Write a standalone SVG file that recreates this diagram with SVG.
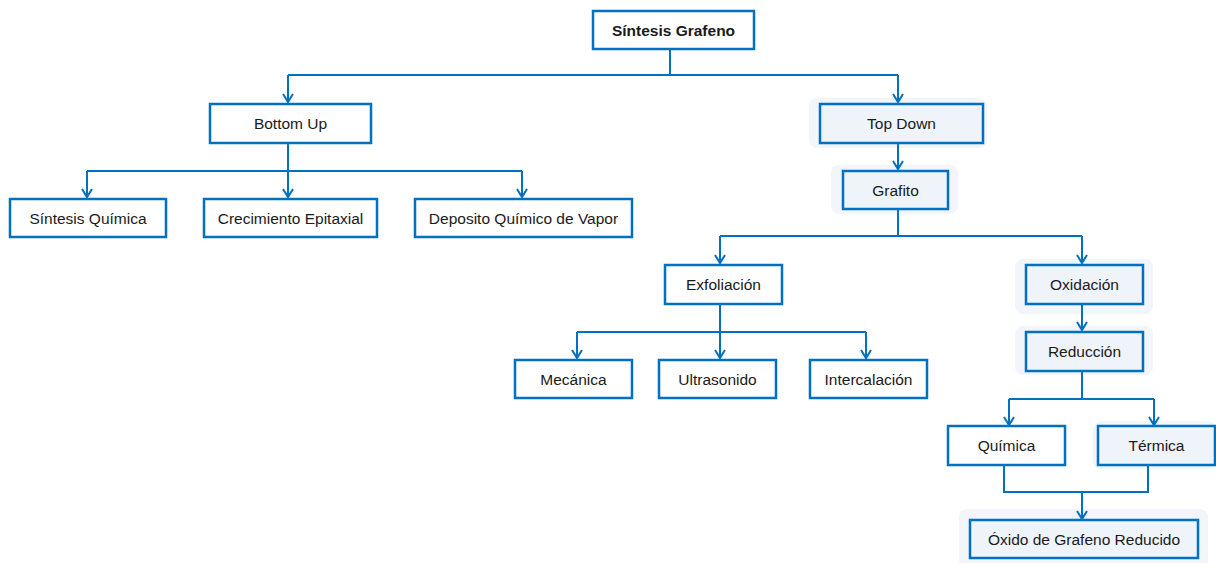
<svg xmlns="http://www.w3.org/2000/svg" width="1216" height="563" viewBox="0 0 1216 563">
<defs>
<marker id="arr" viewBox="0 0 12 12" refX="10" refY="6" markerWidth="12" markerHeight="12" markerUnits="userSpaceOnUse" orient="auto">
<path d="M2,1 L10,6 L2,11" fill="none" stroke="#0070C0" stroke-width="2"/>
</marker>
<style>
.box{fill:#ffffff;stroke:#0070C0;stroke-width:2.5}
.boxl{fill:#EFF3FA;stroke:#0070C0;stroke-width:2.5}
.halo{fill:#F2F5FA}
.t{font-family:"Liberation Sans",Arial,sans-serif;font-size:15.5px;fill:#1a1a1a;text-anchor:middle;dominant-baseline:central}
.tb{font-weight:bold}
.c{fill:none;stroke:#0070C0;stroke-width:2}
.ca{fill:none;stroke:#0070C0;stroke-width:2;marker-end:url(#arr)}
</style>
</defs>
<rect width="1216" height="563" fill="#ffffff"/>
<g id="n-sintesis-grafeno">
<rect class="box" x="593" y="11" width="161" height="38"/>
<text class="t tb" x="673.5" y="30">Síntesis Grafeno</text>
</g>
<g id="n-bottom-up">
<rect class="box" x="210" y="104" width="161" height="39"/>
<text class="t" x="290.5" y="123.5">Bottom Up</text>
</g>
<g id="n-top-down">
<rect class="halo" x="809" y="98" width="178" height="50" rx="8"/>
<rect class="boxl" x="820" y="104" width="163" height="39"/>
<text class="t" x="901.5" y="123.5">Top Down</text>
</g>
<g id="n-sintesis-quimica">
<rect class="box" x="10" y="199" width="156" height="38"/>
<text class="t" x="88" y="218">Síntesis Química</text>
</g>
<g id="n-crecimiento">
<rect class="box" x="204" y="199" width="173" height="38"/>
<text class="t" x="290.5" y="218">Crecimiento Epitaxial</text>
</g>
<g id="n-deposito">
<rect class="box" x="415" y="199" width="217" height="38"/>
<text class="t" x="523.5" y="218">Deposito Químico de Vapor</text>
</g>
<g id="n-grafito">
<rect class="halo" x="831" y="165" width="127" height="49" rx="8"/>
<rect class="boxl" x="843" y="171" width="105" height="38"/>
<text class="t" x="895.5" y="190">Grafito</text>
</g>
<g id="n-exfoliacion">
<rect class="box" x="665" y="265" width="117" height="39"/>
<text class="t" x="723.5" y="284.5">Exfoliación</text>
</g>
<g id="n-oxidacion">
<rect class="halo" x="1015" y="259" width="138" height="55" rx="8"/>
<rect class="boxl" x="1026" y="265" width="117" height="39"/>
<text class="t" x="1084.5" y="284.5">Oxidación</text>
</g>
<g id="n-mecanica">
<rect class="box" x="515" y="360" width="117" height="38"/>
<text class="t" x="573.5" y="379">Mecánica</text>
</g>
<g id="n-ultrasonido">
<rect class="box" x="659" y="360" width="117" height="38"/>
<text class="t" x="717.5" y="379">Ultrasonido</text>
</g>
<g id="n-intercalacion">
<rect class="box" x="810" y="360" width="117" height="38"/>
<text class="t" x="868.5" y="379">Intercalación</text>
</g>
<g id="n-reduccion">
<rect class="halo" x="1015" y="326" width="138" height="49" rx="8"/>
<rect class="boxl" x="1026" y="332" width="117" height="39"/>
<text class="t" x="1084.5" y="351.5">Reducción</text>
</g>
<g id="n-quimica">
<rect class="box" x="948" y="426" width="117" height="39"/>
<text class="t" x="1006.5" y="445.5">Química</text>
</g>
<g id="n-termica">
<rect class="halo" x="1093" y="421" width="123" height="48" rx="8"/>
<rect class="boxl" x="1098" y="426" width="117" height="39"/>
<text class="t" x="1156.5" y="445.5">Térmica</text>
</g>
<g id="n-oxido">
<rect class="halo" x="959" y="509" width="249" height="60" rx="8"/>
<rect class="boxl" x="970" y="520" width="228" height="38"/>
<text class="t" x="1084" y="539">Óxido de Grafeno Reducido</text>
</g>
<g id="connectors">
<path class="c" d="M670,49 V75 M288,75 H898"/>
<path class="ca" d="M288,75 V102"/>
<path class="ca" d="M898,75 V102"/>
<path class="c" d="M288,143 V171 M87,171 H522"/>
<path class="ca" d="M87,171 V197"/>
<path class="ca" d="M288,171 V197"/>
<path class="ca" d="M522,171 V197"/>
<path class="ca" d="M898,143 V169"/>
<path class="c" d="M898,209 V236 M720,236 H1082"/>
<path class="ca" d="M720,236 V263"/>
<path class="ca" d="M1082,236 V263"/>
<path class="c" d="M720,304 V332 M577,332 H866"/>
<path class="ca" d="M577,332 V358"/>
<path class="ca" d="M720,332 V358"/>
<path class="ca" d="M866,332 V358"/>
<path class="ca" d="M1082,304 V330"/>
<path class="c" d="M1082,371 V399 M1009,399 H1154"/>
<path class="ca" d="M1009,399 V425"/>
<path class="ca" d="M1154,399 V425"/>
<path class="c" d="M1004,465 V492 H1148 V465"/>
<path class="ca" d="M1082,492 V519"/>
</g>
</svg>
